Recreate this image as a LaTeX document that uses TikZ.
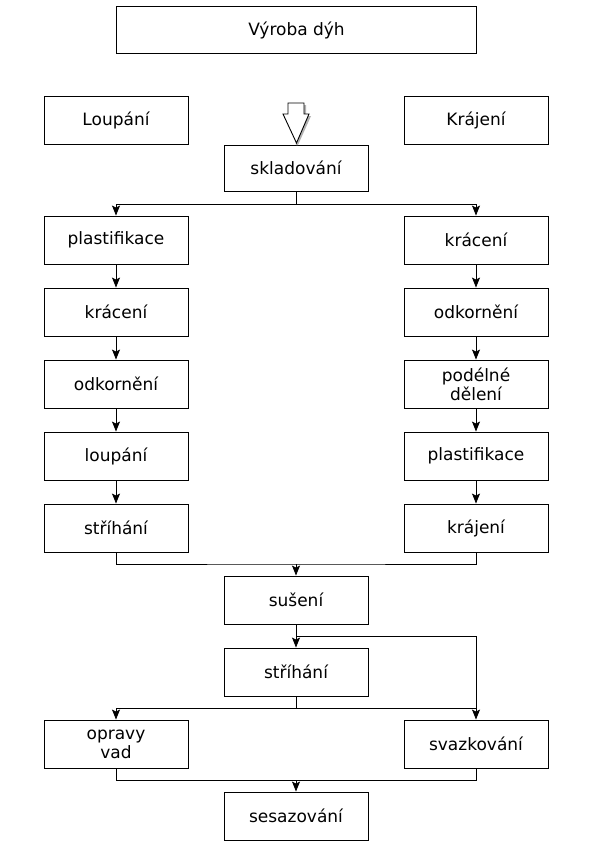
\documentclass[tikz,border=0pt]{standalone}
\usepackage{fontspec}
\setmainfont{DejaVu Sans}
\usetikzlibrary{arrows.meta}
\begin{document}
\begin{tikzpicture}[x=1pt,y=-1pt,
  box/.style={draw=black,line width=0.9pt,minimum width=144pt,minimum height=48pt,inner sep=2pt,align=center,
    font=\fontsize{17}{19}\selectfont},
  conn/.style={line width=0.9pt,draw=black},
  arr/.style={conn,-{Stealth[length=10pt,width=8pt,inset=2pt]}}]
\useasboundingbox (0,0) rectangle (592,855);
\fill[white] (0,0) rectangle (592,855);
% nodes
\node[box,minimum width=360pt,minimum height=47pt] (title) at (296.5,30) {Výroba dýh};
\node[box] (loup) at (116,120) {Loupání};
\node[box] (kraj) at (476,120) {Krájení};
\node[box,minimum height=46pt] (sklad) at (296,168) {skladování};
\node[box] (L1) at (116,240) {plastifikace};
\node[box] (L2) at (116,312) {krácení};
\node[box] (L3) at (116,384) {odkornění};
\node[box] (L4) at (116,456) {loupání};
\node[box] (L5) at (116,528) {stříhání};
\node[box] (R1) at (476,240) {krácení};
\node[box] (R2) at (476,312) {odkornění};
\node[box] (R3) at (476,384) {podélné\\dělení};
\node[box] (R4) at (476,456) {plastifikace};
\node[box] (R5) at (476,528) {krájení};
\node[box] (su) at (296,600) {sušení};
\node[box] (st) at (296,672) {stříhání};
\node[box] (op) at (116,744) {opravy\\ vad};
\node[box] (sv) at (476,744) {svazkování};
\node[box] (ses) at (296,816) {sesazování};
% hollow arrow
\fill[gray!60] (290,105) -- (306,105) -- (306,116) -- (311,116) -- (298,145) -- (296,145) -- cycle;
\draw[line width=0.9pt,fill=white] (288,103) -- (304,103) -- (304,114) -- (309,114) -- (296.5,143) -- (283,114) -- (288,114) -- cycle;
% junctions
\coordinate (j1) at (296,204);
\coordinate (j2) at (296,564);
\coordinate (j3) at (296,636);
\coordinate (j4) at (296,708);
\coordinate (j4r) at (476,708);
\coordinate (j5) at (296,780);
% connectors
\draw[conn] (sklad.south) -- (j1);
\draw[arr] (j1) -| (L1.north);
\draw[arr] (j1) -| (R1.north);
\draw[arr] (L1) -- (L2);
\draw[arr] (L2) -- (L3);
\draw[arr] (L3) -- (L4);
\draw[arr] (L4) -- (L5);
\draw[arr] (R1) -- (R2);
\draw[arr] (R2) -- (R3);
\draw[arr] (R3) -- (R4);
\draw[arr] (R4) -- (R5);
\draw[conn] (L5.south) |- (j2) -| (R5.south);
\draw[arr] (j2) -- (su.north);
\draw[arr] (su) -- (st);
\draw[arr] (j3) -| (sv.north);
\draw[conn] (st.south) -- (j4) -- (j4r);
\draw[arr] (j4) -| (op.north);
\draw[conn] (op.south) |- (j5) -| (sv.south);
\draw[arr] (j5) -- (ses.north);
\end{tikzpicture}
\end{document}
